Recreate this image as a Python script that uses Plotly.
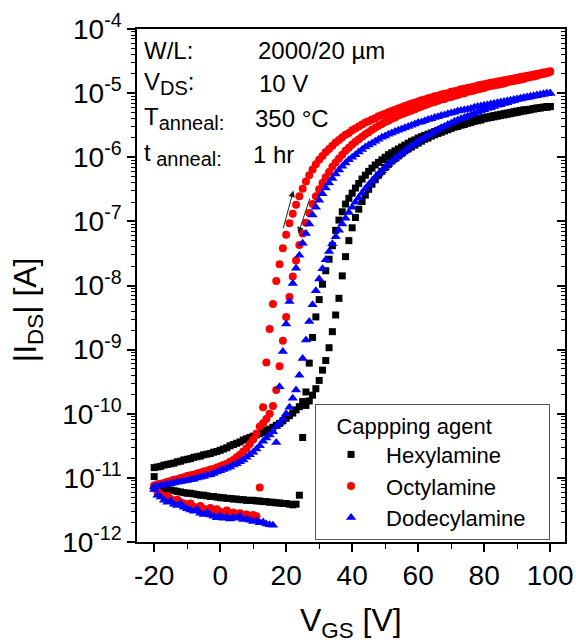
import numpy as np
import plotly.graph_objects as go

# Gate voltage sweep (V), 1 V steps
VGS = list(range(-20, 101))

# log10(|I_DS| / A), forward sweep (-20 -> 100) and backward sweep (100 -> -20), indexed by VGS
hex_fwd = [-10.84, -10.83, -10.82, -10.80, -10.79, -10.78, -10.77, -10.75, -10.74, -10.72,
           -10.71, -10.70, -10.68, -10.67, -10.66, -10.64, -10.63, -10.62, -10.60, -10.59,
           -10.57, -10.55, -10.53, -10.50, -10.48, -10.46, -10.44, -10.41, -10.39, -10.37,
           -10.35, -10.33, -10.31, -10.29, -10.26, -10.24, -10.21, -10.18, -10.15, -10.11,
           -10.07, -10.03, -9.99, -9.94, -9.89, -9.81, -9.66, -9.21, -8.81, -8.49,
           -8.22, -7.98, -7.77, -7.59, -7.38, -7.14, -6.98, -6.85, -6.73, -6.64,
           -6.56, -6.48, -6.41, -6.34, -6.28, -6.22, -6.17, -6.12, -6.08, -6.04,
           -6.00, -5.96, -5.93, -5.90, -5.87, -5.84, -5.81, -5.78, -5.75, -5.73,
           -5.70, -5.68, -5.66, -5.64, -5.62, -5.60, -5.58, -5.56, -5.54, -5.53,
           -5.51, -5.49, -5.48, -5.46, -5.45, -5.44, -5.42, -5.41, -5.40, -5.39,
           -5.38, -5.37, -5.36, -5.35, -5.34, -5.33, -5.32, -5.31, -5.30, -5.29,
           -5.28, -5.27, -5.26, -5.26, -5.25, -5.24, -5.23, -5.23, -5.22, -5.21,
           -5.21]
hex_bwd = [-10.98, -11.12, -11.15, -11.17, -11.18, -11.19, -11.20, -11.21, -11.22, -11.23,
           -11.24, -11.24, -11.25, -11.26, -11.27, -11.27, -11.28, -11.29, -11.29, -11.30,
           -11.31, -11.31, -11.32, -11.32, -11.33, -11.33, -11.34, -11.34, -11.35, -11.35,
           -11.35, -11.36, -11.36, -11.37, -11.37, -11.38, -11.38, -11.39, -11.39, -11.40,
           -11.40, -11.41, -11.42, -11.41, -11.27, -10.37, -9.87, -9.80, -9.71, -9.61,
           -9.48, -9.32, -9.17, -8.97, -8.72, -8.46, -8.20, -7.85, -7.55, -7.30,
           -7.10, -6.94, -6.81, -6.69, -6.59, -6.50, -6.42, -6.35, -6.28, -6.22,
           -6.16, -6.11, -6.06, -6.02, -5.98, -5.94, -5.90, -5.87, -5.84, -5.81,
           -5.78, -5.75, -5.72, -5.70, -5.67, -5.65, -5.63, -5.61, -5.59, -5.57,
           -5.55, -5.53, -5.52, -5.50, -5.49, -5.47, -5.46, -5.44, -5.43, -5.42,
           -5.40, -5.39, -5.38, -5.37, -5.36, -5.35, -5.34, -5.33, -5.32, -5.31,
           -5.30, -5.29, -5.28, -5.27, -5.26, -5.25, -5.24, -5.23, -5.22, -5.22,
           -5.21]
oct_fwd = [-11.12, -11.10, -11.09, -11.08, -11.06, -11.05, -11.03, -11.02, -11.00, -10.99,
           -10.97, -10.96, -10.95, -10.93, -10.92, -10.90, -10.89, -10.87, -10.86, -10.84,
           -10.82, -10.80, -10.78, -10.75, -10.72, -10.68, -10.64, -10.59, -10.54, -10.47,
           -10.40, -10.31, -10.20, -9.90, -9.20, -8.68, -8.29, -7.93, -7.67, -7.42,
           -7.21, -7.03, -6.88, -6.74, -6.61, -6.49, -6.38, -6.28, -6.19, -6.11,
           -6.04, -5.98, -5.92, -5.87, -5.82, -5.77, -5.73, -5.69, -5.65, -5.62,
           -5.58, -5.55, -5.52, -5.49, -5.46, -5.44, -5.41, -5.39, -5.36, -5.34,
           -5.32, -5.30, -5.28, -5.26, -5.24, -5.22, -5.20, -5.18, -5.16, -5.15,
           -5.13, -5.11, -5.10, -5.08, -5.07, -5.05, -5.04, -5.02, -5.01, -5.00,
           -4.98, -4.97, -4.96, -4.94, -4.93, -4.92, -4.91, -4.90, -4.88, -4.87,
           -4.86, -4.85, -4.84, -4.83, -4.82, -4.81, -4.80, -4.79, -4.78, -4.77,
           -4.76, -4.75, -4.74, -4.73, -4.72, -4.71, -4.70, -4.69, -4.68, -4.67,
           -4.66]
oct_bwd = [-11.15, -11.22, -11.26, -11.30, -11.28, -11.33, -11.36, -11.34, -11.38, -11.40,
           -11.42, -11.40, -11.45, -11.47, -11.44, -11.48, -11.50, -11.47, -11.52, -11.49,
           -11.53, -11.55, -11.51, -11.56, -11.54, -11.58, -11.55, -11.59, -11.57, -11.60,
           -11.58, -11.60, -11.15, -10.15, -10.08, -10.00, -9.88, -9.63, -9.26, -8.86,
           -8.49, -8.18, -7.86, -7.61, -7.37, -7.19, -7.02, -6.87, -6.73, -6.61,
           -6.50, -6.40, -6.31, -6.23, -6.15, -6.08, -6.02, -5.96, -5.90, -5.85,
           -5.80, -5.76, -5.72, -5.68, -5.64, -5.61, -5.57, -5.54, -5.51, -5.48,
           -5.45, -5.43, -5.40, -5.38, -5.35, -5.33, -5.31, -5.29, -5.27, -5.25,
           -5.23, -5.21, -5.19, -5.17, -5.15, -5.14, -5.12, -5.10, -5.09, -5.07,
           -5.06, -5.04, -5.03, -5.01, -5.00, -4.98, -4.97, -4.96, -4.94, -4.93,
           -4.92, -4.90, -4.89, -4.88, -4.87, -4.86, -4.85, -4.83, -4.82, -4.81,
           -4.80, -4.79, -4.78, -4.76, -4.75, -4.74, -4.73, -4.71, -4.70, -4.69,
           -4.67]
dod_fwd = [-11.14, -11.13, -11.12, -11.11, -11.10, -11.09, -11.08, -11.07, -11.06, -11.05,
           -11.04, -11.03, -11.02, -11.00, -10.99, -10.98, -10.96, -10.95, -10.93, -10.91,
           -10.89, -10.87, -10.85, -10.83, -10.80, -10.78, -10.75, -10.72, -10.68, -10.64,
           -10.60, -10.55, -10.50, -10.43, -10.38, -10.33, -10.28, -10.20, -9.58, -9.03,
           -8.60, -8.25, -7.97, -7.73, -7.53, -7.34, -7.19, -7.04, -6.90, -6.78,
           -6.67, -6.57, -6.48, -6.40, -6.33, -6.26, -6.20, -6.14, -6.09, -6.04,
           -6.00, -5.96, -5.92, -5.88, -5.84, -5.81, -5.78, -5.75, -5.72, -5.69,
           -5.67, -5.64, -5.62, -5.60, -5.58, -5.56, -5.54, -5.52, -5.50, -5.48,
           -5.46, -5.45, -5.43, -5.41, -5.40, -5.38, -5.37, -5.35, -5.34, -5.32,
           -5.31, -5.30, -5.28, -5.27, -5.26, -5.25, -5.24, -5.22, -5.21, -5.20,
           -5.19, -5.18, -5.17, -5.16, -5.15, -5.14, -5.13, -5.12, -5.11, -5.10,
           -5.09, -5.08, -5.07, -5.06, -5.06, -5.05, -5.04, -5.03, -5.02, -5.01,
           -5.00]
dod_bwd = [-11.18, -11.27, -11.30, -11.35, -11.38, -11.36, -11.41, -11.43, -11.40, -11.46,
           -11.48, -11.50, -11.52, -11.49, -11.55, -11.57, -11.54, -11.58, -11.60, -11.62,
           -11.59, -11.63, -11.61, -11.64, -11.62, -11.63, -11.60, -11.65, -11.64, -11.66,
           -11.68, -11.67, -11.70, -11.69, -11.72, -11.73, -11.74, -10.45, -10.15, -10.08,
           -10.00, -9.90, -9.76, -9.63, -9.40, -9.14, -8.85, -8.56, -8.30, -8.08,
           -7.90, -7.74, -7.60, -7.47, -7.35, -7.24, -7.14, -7.04, -6.95, -6.86,
           -6.78, -6.70, -6.63, -6.56, -6.49, -6.43, -6.37, -6.31, -6.26, -6.21,
           -6.16, -6.11, -6.06, -6.02, -5.98, -5.94, -5.90, -5.86, -5.82, -5.79,
           -5.75, -5.72, -5.69, -5.66, -5.63, -5.60, -5.57, -5.54, -5.52, -5.49,
           -5.47, -5.44, -5.42, -5.40, -5.38, -5.36, -5.34, -5.32, -5.30, -5.28,
           -5.26, -5.24, -5.23, -5.21, -5.19, -5.18, -5.16, -5.15, -5.13, -5.12,
           -5.10, -5.09, -5.08, -5.07, -5.05, -5.04, -5.03, -5.02, -5.01, -5.00,
           -5.00]

X_TICKS = [-20, 0, 20, 40, 60, 80, 100]
X_MINOR = [-10, 10, 30, 50, 70, 90]
Y_EXP = [-12, -11, -10, -9, -8, -7, -6, -5, -4]

series = [
    ("Hexylamine", hex_fwd, hex_bwd, "black", "square", 7),
    ("Octylamine", oct_fwd, oct_bwd, "#ff0000", "circle", 8),
    ("Dodecylamine&nbsp;&nbsp;&nbsp;", dod_fwd, dod_bwd, "#0000ff", "triangle-up", 9),
]

FONT = "Liberation Sans, Arial, sans-serif"
fig = go.Figure()
for name, fwd, bwd, color, sym, size in series:
    x = VGS + VGS[::-1]
    y = list(10 ** np.array(fwd)) + list(10 ** np.array(bwd[::-1]))
    fig.add_trace(go.Scatter(x=x, y=y, mode="markers", name=name,
                             marker=dict(color=color, symbol=sym, size=size, line=dict(width=0))))
fig.add_trace(go.Scatter(x=[None], y=[None], yaxis="y2", showlegend=False, hoverinfo="skip"))

ytickvals = [10.0 ** e for e in Y_EXP]
yticktext = ["10<sup>%d</sup>" % e for e in Y_EXP]

fig.update_layout(
    width=576, height=643,
    margin=dict(l=137, r=11, t=29, b=101, autoexpand=False),
    paper_bgcolor="white", plot_bgcolor="white",
    font=dict(family=FONT, color="black"),
    showlegend=True,
    legend=dict(x=0.416, y=0.269, xanchor="left", yanchor="top",
                bgcolor="white", bordercolor="#555", borderwidth=1,
                font=dict(size=22, family=FONT),
                title=dict(text="   Cappping agent", font=dict(size=22, family=FONT)),
                itemwidth=60, indentation=0, tracegroupgap=0),
    xaxis=dict(range=[-25.2, 104.5], tickmode="array", tickvals=X_TICKS,
               ticktext=[str(v) for v in X_TICKS], automargin=False,
               ticks="outside", ticklen=8, tickwidth=1.5, tickcolor="black",
               showline=True, linewidth=1.5, linecolor="black", mirror=True,
               showgrid=False, zeroline=False, tickfont=dict(size=28, family=FONT),
               minor=dict(tickvals=X_MINOR, ticks="outside", ticklen=5, tickwidth=1.2, tickcolor="black")),
    yaxis=dict(type="log", range=[-12, -4], tickmode="array", tickvals=ytickvals, ticktext=yticktext,
               automargin=False,
               ticks="outside", ticklen=8, tickwidth=1.5, tickcolor="black",
               showline=True, linewidth=1.5, linecolor="black", mirror=True,
               showgrid=False, zeroline=False, tickfont=dict(size=28, family=FONT),
               minor=dict(dtick="D1", ticks="outside", ticklen=4, tickwidth=1, tickcolor="black")),
    yaxis2=dict(type="log", range=[-12, -4], dtick=1, overlaying="y", side="right", anchor="x",
                automargin=False,
                ticks="inside", ticklen=8, tickwidth=1.5, tickcolor="black", showticklabels=False,
                showgrid=False, zeroline=False, showline=False,
                minor=dict(dtick="D1", ticks="inside", ticklen=4, tickwidth=1, tickcolor="black")),
)

SUB = '<sub><span style="font-size:20px">%s</span></sub>'
ann = []
ann_font = dict(size=24, family=FONT, color="black")
rows = [
    ("W/L:", "2000/20 µm", 0.959, 0.278),
    ("V" + SUB % "DS" + ":", "10 V", 0.893, 0.280),
    ("T" + SUB % "anneal:", "350 °C", 0.826, 0.271),
    ("t" + SUB % " anneal:", "1 hr", 0.756, 0.266),
]
for lab, val, yy, xv in rows:
    ann.append(dict(x=0.012, y=yy, xref="paper", yref="paper", text=lab, showarrow=False,
                    xanchor="left", yanchor="middle", font=ann_font))
    ann.append(dict(x=xv, y=yy, xref="paper", yref="paper", text=val, showarrow=False,
                    xanchor="left", yanchor="middle", font=ann_font))
# sweep direction arrows
ann.append(dict(x=22.2, y=-6.52, ax=19.0, ay=-7.13, xref="x", yref="y", axref="x", ayref="y",
                text="", showarrow=True, arrowhead=2, arrowsize=1.3, arrowwidth=1, arrowcolor="#222"))
ann.append(dict(x=23.7, y=-7.19, ax=27.3, ay=-6.62, xref="x", yref="y", axref="x", ayref="y",
                text="", showarrow=True, arrowhead=2, arrowsize=1.3, arrowwidth=1, arrowcolor="#222"))
# axis titles
ann.append(dict(x=-0.257, y=0.452, xref="paper", yref="paper", text="|I<sub>DS</sub>| [A]",
                textangle=-90, showarrow=False, xanchor="center", yanchor="middle",
                font=dict(size=32, family=FONT, color="black")))
ann.append(dict(x=0.5, y=-0.157, xref="paper", yref="paper", text="V<sub>GS</sub> [V]",
                showarrow=False, xanchor="center", yanchor="middle",
                font=dict(size=32, family=FONT, color="black")))
fig.update_layout(annotations=ann)

fig.write_html("out.html")
